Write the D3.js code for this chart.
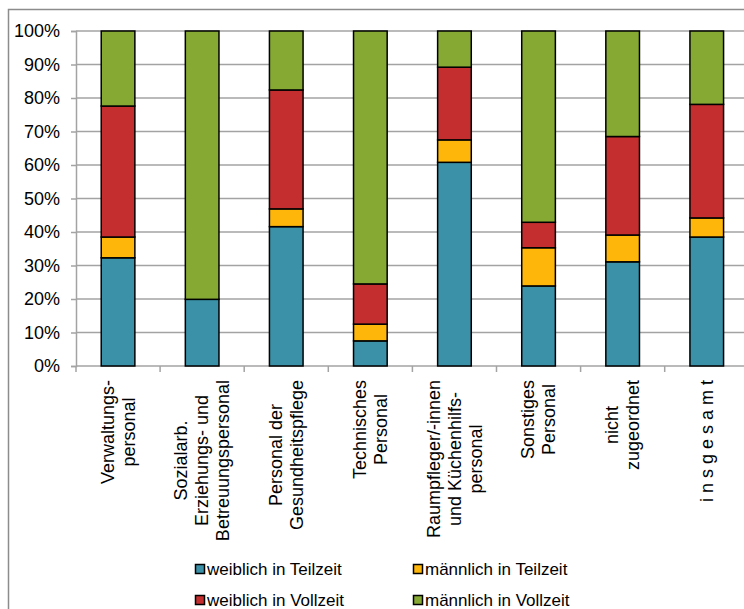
<!DOCTYPE html>
<html>
<head>
<meta charset="utf-8">
<script src="https://cdn.jsdelivr.net/npm/d3@7/dist/d3.min.js"></script>
<style>
  html, body { margin: 0; padding: 0; background: #fff; }
  svg { display: block; font-family: "Liberation Sans", Arial, sans-serif; }
</style>
</head>
<body>
<svg id="chart" width="744" height="609"></svg>
<script>
// Personal nach Beschäftigungsart, Anteile in Prozent
const categories = [
  ["Verwaltungs-", "personal"],
  ["Sozialarb.", "Erziehungs- und", "Betreuungspersonal"],
  ["Personal der", "Gesundheitspflege"],
  ["Technisches", "Personal"],
  ["Raumpfleger/-innen", "und Küchenhilfs-", "personal"],
  ["Sonstiges", "Personal"],
  ["nicht", "zugeordnet"],
  ["i n s g e s a m t"]
];
const seriesNames = ["weiblich in Teilzeit", "männlich in Teilzeit", "weiblich in Vollzeit", "männlich in Vollzeit"];
const weiblichTeilzeit  = [32.3, 19.9, 41.6,  7.5, 60.8, 23.9, 31.1, 38.5];
const maennlichTeilzeit = [ 6.2,  0.0,  5.3,  5.0,  6.7, 11.4,  8.0,  5.7];
const weiblichVollzeit  = [39.1,  0.0, 35.5, 12.0, 21.7,  7.6, 29.4, 33.9];
const maennlichVollzeit = [22.4, 80.1, 17.6, 75.5, 10.8, 57.1, 31.5, 21.9];
const yTicks = [0, 10, 20, 30, 40, 50, 60, 70, 80, 90, 100];
const colors = ["#3a91a8", "#ffb60b", "#c42e2f", "#86a933"];

const catKeys = categories.map(c => c.join(" "));
const rows = catKeys.map((k, i) => ({
  key: k,
  [seriesNames[0]]: weiblichTeilzeit[i],
  [seriesNames[1]]: maennlichTeilzeit[i],
  [seriesNames[2]]: weiblichVollzeit[i],
  [seriesNames[3]]: maennlichVollzeit[i]
}));

const svg = d3.select("#chart");
const plotLeft = 76, plotTop = 31, plotBottom = 366, catStep = 84.1;

const x = d3.scaleBand().domain(catKeys)
  .range([plotLeft, plotLeft + catStep * catKeys.length])
  .paddingInner(0.6).paddingOuter(0.3);
const y = d3.scaleLinear().domain([0, 100]).range([plotBottom, plotTop]);
const color = d3.scaleOrdinal().domain(seriesNames).range(colors);

// outer frame
svg.append("rect").attr("x", 8.5).attr("y", 9.5).attr("width", 800).attr("height", 700)
  .attr("fill", "none").attr("stroke", "#8c8c8c").attr("stroke-width", 1.5);

// horizontal gridlines
svg.append("g").selectAll("line").data(yTicks.slice(1)).join("line")
  .attr("x1", plotLeft).attr("x2", 760)
  .attr("y1", d => y(d)).attr("y2", d => y(d))
  .attr("stroke", "#a3a3a3").attr("stroke-width", 1.5);

// y axis
const yAxis = svg.append("g").attr("transform", `translate(${plotLeft},0)`)
  .call(d3.axisLeft(y).tickValues(yTicks).tickFormat(d => d + "%").tickSize(5).tickPadding(11));
yAxis.select(".domain").attr("stroke", "#a3a3a3").attr("stroke-width", 1.5);
yAxis.selectAll(".tick line").attr("stroke", "#a3a3a3").attr("stroke-width", 1.5);
yAxis.selectAll(".tick text").attr("font-size", 18).attr("fill", "#000")
  .attr("font-family", "'Liberation Sans', Arial, sans-serif");

// x axis line and category boundary ticks
svg.append("line").attr("x1", plotLeft).attr("x2", 760).attr("y1", plotBottom).attr("y2", plotBottom)
  .attr("stroke", "#a3a3a3").attr("stroke-width", 1.5);
svg.append("g").selectAll("line").data(d3.range(catKeys.length + 1)).join("line")
  .attr("x1", i => x.range()[0] + i * x.step()).attr("x2", i => x.range()[0] + i * x.step())
  .attr("y1", plotBottom).attr("y2", plotBottom + 6)
  .attr("stroke", "#a3a3a3").attr("stroke-width", 1.5);

// stacked bars
const stacked = d3.stack().keys(seriesNames)(rows);
svg.append("g").selectAll("g").data(stacked).join("g")
  .attr("fill", d => color(d.key))
  .selectAll("rect").data(d => d.filter(p => p[1] - p[0] > 0)).join("rect")
  .attr("x", d => x(d.data.key)).attr("width", x.bandwidth())
  .attr("y", d => y(d[1])).attr("height", d => y(d[0]) - y(d[1]))
  .attr("stroke", "#000").attr("stroke-width", 1.5);

// rotated category labels
const lineGap = 21, labelTop = 380;
categories.forEach((lines, i) => {
  const cx = x(catKeys[i]) + x.bandwidth() / 2;
  const g = svg.append("g");
  const texts = lines.map(ln => g.append("text").text(ln)
    .attr("font-size", 18).attr("fill", "#000")
    .attr("text-anchor", "middle").attr("dy", "0.35em"));
  const maxLen = d3.max(texts, t => t.node().getComputedTextLength());
  texts.forEach((t, j) => {
    const off = (j - (lines.length - 1) / 2) * lineGap;
    t.attr("transform", `translate(${cx + off},${labelTop + maxLen / 2}) rotate(-90)`);
  });
});

// legend
const legendPos = [[195, 569], [413, 569], [195, 600], [413, 600]];
const leg = svg.append("g").selectAll("g").data(seriesNames).join("g")
  .attr("transform", (d, i) => `translate(${legendPos[i][0]},${legendPos[i][1]})`);
leg.append("rect").attr("x", 0.5).attr("y", -4.5).attr("width", 9).attr("height", 9)
  .attr("fill", d => color(d)).attr("stroke", "#000").attr("stroke-width", 1.5);
leg.append("text").attr("x", 12).attr("y", 6).attr("font-size", 17).attr("fill", "#000")
  .text(d => d);
</script>
</body>
</html>
